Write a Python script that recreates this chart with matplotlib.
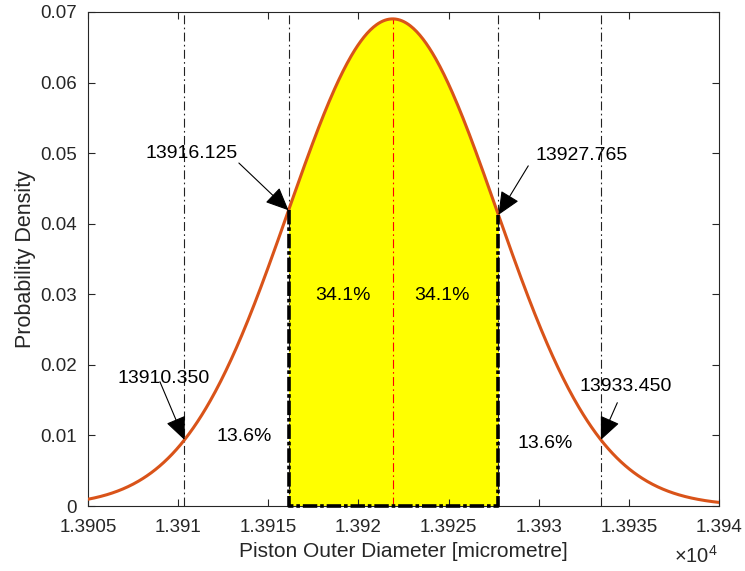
import numpy as np
import matplotlib
matplotlib.use("Agg")
import matplotlib.pyplot as plt

plt.rcParams['font.family'] = ['Liberation Sans', 'DejaVu Sans']
plt.rcParams['mathtext.fontset'] = 'custom'
plt.rcParams['mathtext.rm'] = 'Liberation Sans'

# distribution parameters (piston outer diameter, micrometre)
mu = 13921.9
sigma = 5.78
x_min, x_max = 13905, 13940
marks = [13910.350, 13916.125, 13927.765, 13933.450]
mark_labels = ['13910.350', '13916.125', '13927.765', '13933.450']
pct_labels = ['13.6%', '34.1%', '34.1%', '13.6%']
xticks = [13905, 13910, 13915, 13920, 13925, 13930, 13935, 13940]
xtick_labels = ['1.3905', '1.391', '1.3915', '1.392', '1.3925', '1.393', '1.3935', '1.394']
yticks = [0, 0.01, 0.02, 0.03, 0.04, 0.05, 0.06, 0.07]
ytick_labels = ['0', '0.01', '0.02', '0.03', '0.04', '0.05', '0.06', '0.07']


def pdf(x):
    return np.exp(-0.5 * ((x - mu) / sigma) ** 2) / (sigma * np.sqrt(2 * np.pi))


fig = plt.figure(figsize=(7.45, 5.71), dpi=100)
ax = fig.add_axes([0.1181, 0.1138, 0.8470, 0.8652])

xs = np.linspace(x_min, x_max, 600)
ys = pdf(xs)

# shaded +-1 sigma area
lo, hi = marks[1], marks[2]
xf = np.linspace(lo, hi, 300)
yf = pdf(xf)
ax.fill_between(xf, 0, yf, color='#FFFF00', lw=0, zorder=1)
ax.plot([lo, lo, hi, hi], [pdf(lo), 0, 0, pdf(hi)], color='k', lw=2.6,
        ls=(0, (4, 0.8, 1, 0.8)), zorder=4, clip_on=False)

# vertical guide lines
for m in marks:
    ax.plot([m, m], [0, 0.07], color='#222222', lw=0.8, ls=(0, (8, 3, 1.5, 3)),
            zorder=2)
ax.plot([mu, mu], [0, pdf(mu)], color='#FF0000', lw=0.8, ls=(0, (8, 3, 1.5, 3)),
        zorder=2)

ax.plot(xs, ys, color='#D95319', lw=2.2, zorder=3)

# arrow annotations: (text x, text y, tail x, tail y)
ann_pos = [(13909.2, 0.0181, 13908.99, 0.01761),
           (13910.77, 0.0500, 13913.37, 0.0486),
           (13932.4, 0.0497, 13929.42, 0.0482),
           (13934.84, 0.0169, 13934.36, 0.01464)]
for m, lab, (tx, ty, ax0, ay0) in zip(marks, mark_labels, ann_pos):
    ax.text(tx, ty, lab, ha='center', va='center', fontsize=14, color='k',
            zorder=5)
    ax.annotate('', xy=(m, pdf(m)), xytext=(ax0, ay0),
                arrowprops=dict(arrowstyle='-|>,head_length=0.9,head_width=0.4',
                                color='k', lw=0.8, shrinkA=0, shrinkB=0,
                                mutation_scale=16),
                zorder=5)

pct_pos = [(13913.65, 0.0098), (13919.14, 0.0298), (13924.63, 0.0298),
           (13930.38, 0.0088)]
for lab, (px, py) in zip(pct_labels, pct_pos):
    ax.text(px, py, lab, ha='center', va='center', fontsize=14, color='k',
            zorder=5)

ax.set_xlim(x_min, x_max)
ax.set_ylim(0, 0.07)
ax.set_xticks(xticks)
ax.set_xticklabels(xtick_labels)
ax.set_yticks(yticks)
ax.set_yticklabels(ytick_labels)
ax.tick_params(direction='in', length=5, width=0.8, top=True, right=True,
               labelsize=13.5, colors='#262626')
ax.tick_params(axis='x', pad=9)
ax.tick_params(axis='y', pad=8)
for s in ax.spines.values():
    s.set_color('#262626')
    s.set_linewidth(0.8)

ax.set_xlabel('Piston Outer Diameter [micrometre]', fontsize=15,
              color='#262626', labelpad=5)
ax.set_ylabel('Probability Density', fontsize=15.5, color='#262626',
              labelpad=3)
fig.text(0.963, 0.008, r'$\times10^{4}$', ha='right', va='bottom',
         fontsize=14.5, color='#262626')

fig.savefig('out.png', dpi=100)
